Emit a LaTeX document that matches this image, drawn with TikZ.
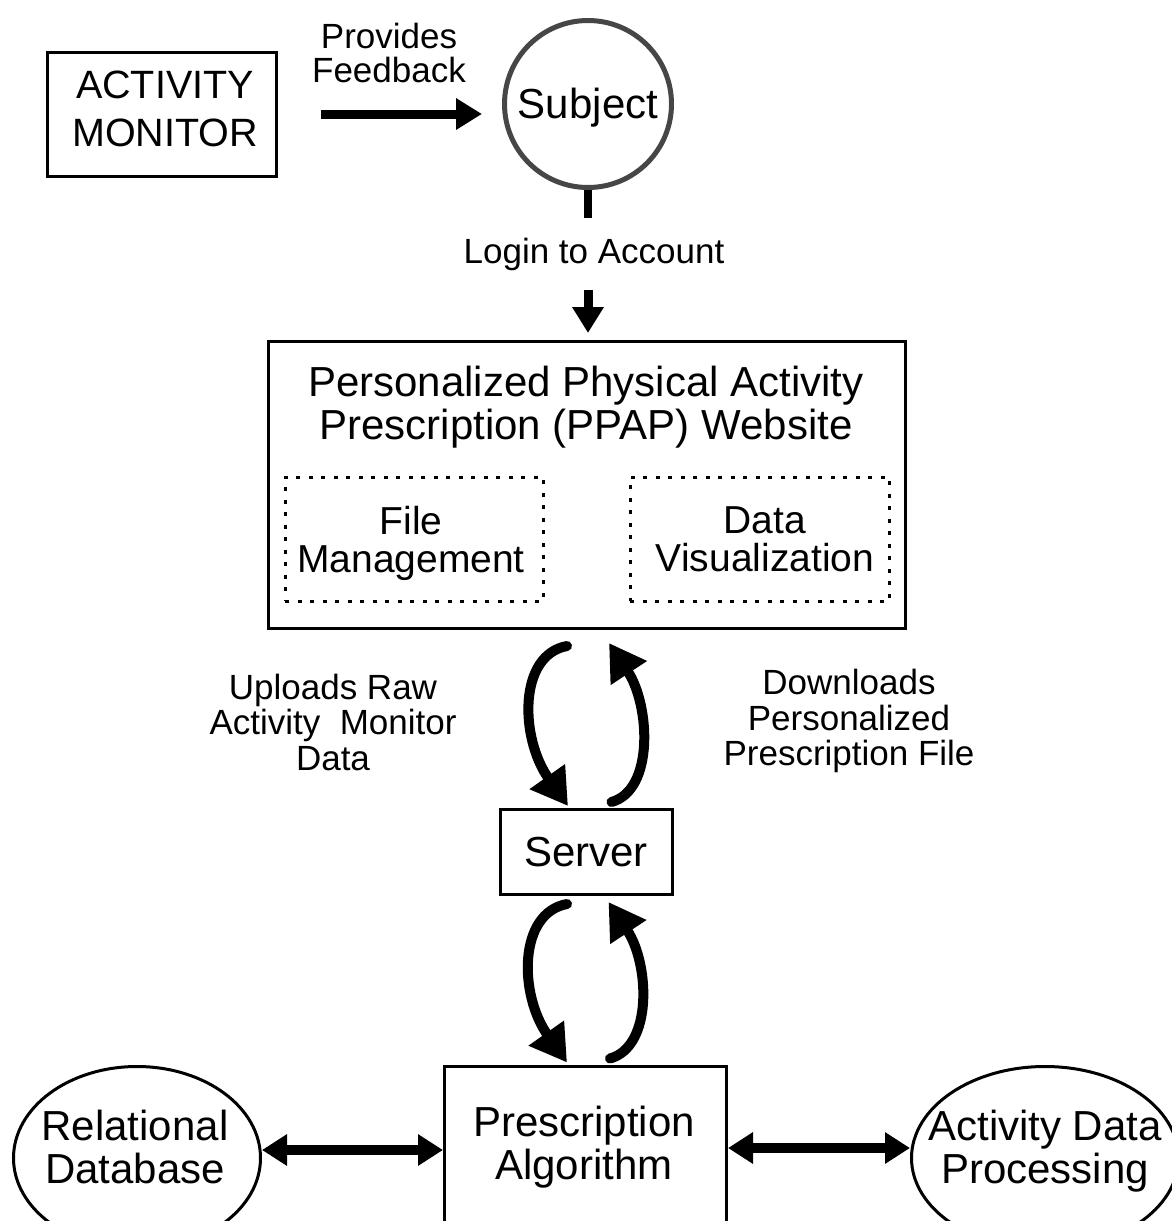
\documentclass[tikz,border=0pt]{standalone}
\usepackage{fontspec}
\setmainfont{Liberation Sans}
\usetikzlibrary{arrows.meta,shapes.geometric,calc}
\definecolor{subjgray}{RGB}{70,70,70}
\begin{document}
\begin{tikzpicture}[x=1pt,y=-1pt,
  box/.style={draw,line width=3pt,inner sep=0pt},
  dotbox/.style={draw,line width=3pt,dash pattern=on 4pt off 8.5pt,inner sep=0pt},
  lbl/.style={inner sep=0pt,align=center},
  fbig/.style={font=\fontsize{42}{43}\selectfont},
  fmid/.style={font=\fontsize{39}{38}\selectfont},
  fsmall/.style={font=\fontsize{35}{35.5}\selectfont},
  bigarrow/.style={line width=9pt,-{Triangle[width=30pt,length=26pt]}},
  dblarrow/.style={line width=10pt,{Triangle[width=30pt,length=25pt]}-{Triangle[width=30pt,length=25pt]}},
  curvarrow/.style={line width=10pt,line cap=round,-{Triangle[width=41pt,length=36pt]}}
]
\useasboundingbox (0,0) rectangle (1172,1221);
\clip (0,0) rectangle (1172,1221);

% top row
\node[box,minimum width=229pt,minimum height=124pt] (actmon) at (161.5,114) {};
\node[lbl,font=\fontsize{39.5}{48}\selectfont] (actmontext) at (165,109) {ACTIVITY\\MONITOR};
\node[lbl,fsmall,font=\fontsize{35}{34}\selectfont] (feedback) at (389,53) {Provides\\Feedback};
\node[circle,draw=subjgray,line width=5pt,minimum size=167pt,inner sep=0pt] (subject) at (588,104) {};
\node[lbl,fbig] (subjtext) at (588,108) {Subject};
\draw[bigarrow,shorten <=43pt,shorten >=20pt] (actmon.east) -- (actmon.east -| subject.west);

\coordinate (stemend) at (588,218);
\draw[line width=8pt] (subject.south) -- (stemend);
\node[lbl,fsmall] (login) at (594,254) {Login to Account};

% website
\node[box,minimum width=637pt,minimum height=287pt] (ppap) at (587,485) {};
\node[lbl,fbig] (ppaptitle) at (586,407) {Personalized Physical Activity\\Prescription (PPAP) Website};
\node[dotbox,minimum width=258pt,minimum height=124pt] (filemgmt) at (414,539) {};
\node[dotbox,minimum width=259pt,minimum height=124pt] (datavis) at (759.5,539) {};
\node[lbl,fmid] (filetext) at (411,543) {File\\Management};
\node[lbl,fmid] (datatext) at (765,539) {Data\\Visualization};

\coordinate (loginarr) at (588,290);
\draw[bigarrow,shorten >=7pt] (loginarr) -- (loginarr |- ppap.north);

% server
\node[box,minimum width=172pt,minimum height=85pt] (server) at (586.5,852) {};
\node[lbl,fbig] (servertext) at (586,852) {Server};
\node[lbl,fsmall] (uploads) at (333,722) {Uploads Raw\\Activity\ \ Monitor\\Data};
\node[lbl,fsmall] (downloads) at (849,721) {Downloads\\Personalized\\Prescription File};

\draw[curvarrow] ($(ppap.south)+(-20,16)$) .. controls +(-49,9) and +(-48,-68) .. ($(server.north)+(-18.5,-2)$);
\draw[curvarrow] ($(server.north)+(25,-6)$) .. controls +(43,-12) and +(41,62) .. ($(ppap.south)+(22,13)$);

% algorithm
\node[box,minimum width=282pt,minimum height=172pt] (algbox) at (585.5,1152) {};
\node[lbl,fbig] (algtext) at (584,1147) {Prescription\\Algorithm};

\draw[curvarrow] ($(server.south)+(-19.5,8)$) .. controls +(-49,9) and +(-48,-68) .. ($(algbox.north)+(-18.5,-2)$);
\draw[curvarrow] ($(algbox.north)+(24.5,-6)$) .. controls +(43,-12) and +(41,62) .. ($(server.south)+(22,6)$);

% ellipses
\node[ellipse,draw,line width=3pt,minimum width=247pt,minimum height=183pt,inner sep=0pt] (reldb) at (137,1158) {};
\node[lbl,fbig] (reldbtext) at (135,1147) {Relational\\Database};
\node[ellipse,draw,line width=3pt,minimum width=267pt,minimum height=183pt,inner sep=0pt] (actproc) at (1045,1158) {};
\node[lbl,fbig] (actproctext) at (1045,1151) {Activity Data\\Processing};

\coordinate (leftarrowy) at (0,1150);
\coordinate (rightarrowy) at (0,1148);
\draw[dblarrow] (reldb.east |- leftarrowy) -- (algbox.west |- leftarrowy);
\draw[dblarrow] (algbox.east |- rightarrowy) -- (actproc.west |- rightarrowy);
\end{tikzpicture}
\end{document}
